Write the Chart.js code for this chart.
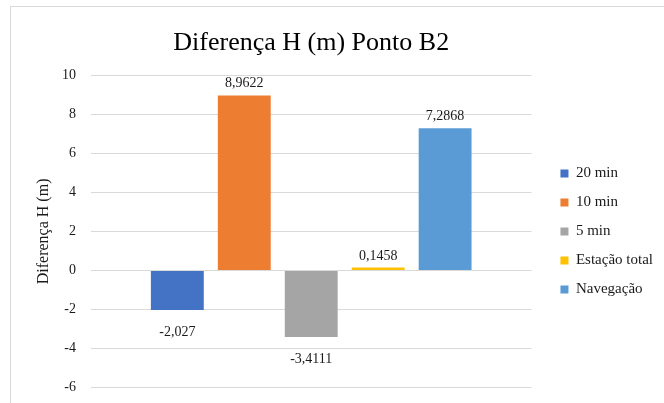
<!DOCTYPE html>
<html>
<head>
<meta charset="utf-8">
<script src="https://cdn.jsdelivr.net/npm/chart.js@4.4.1/dist/chart.umd.min.js"></script>
<style>
  body { margin: 0; background: #fff; }
  #wrap { position: relative; width: 664px; height: 403px; overflow: hidden; }
  #frame { position: absolute; left: 10px; top: 6px; width: 700px; height: 500px; border: 1px solid #d9d9d9; }
  #chart { position: absolute; left: 0; top: 0; }
</style>
</head>
<body>
<div id="wrap">
  <div id="frame"></div>
  <canvas id="chart" width="664" height="403"></canvas>
</div>
<script>
// values
const categories = [''];
const seriesNames = ['20 min', '10 min', '5 min', 'Estação total', 'Navegação'];
const seriesValues = [-2.027, 8.9622, -3.4111, 0.1458, 7.2868];
const seriesColors = ['#4472C4', '#ED7D31', '#A5A5A5', '#FFC000', '#5B9BD5'];
const yTicks = [-6, -4, -2, 0, 2, 4, 6, 8, 10];

const serif = 'Liberation Serif, Times New Roman, serif';
const textColor = '#1a1a1a';

// writes each value at the end of its bar, Excel style (comma decimals)
const valueLabels = {
  id: 'valueLabels',
  afterDatasetsDraw(chart) {
    const ctx = chart.ctx;
    ctx.save();
    ctx.font = `14px ${serif}`;
    ctx.fillStyle = textColor;
    ctx.textAlign = 'center';
    ctx.textBaseline = 'alphabetic';
    chart.data.datasets.forEach((ds, i) => {
      const bar = chart.getDatasetMeta(i).data[0];
      const v = ds.data[0];
      const txt = String(v).replace('.', ',');
      const y = v >= 0 ? bar.y - 8 : bar.y + 26;
      ctx.fillText(txt, bar.x, y);
    });
    ctx.restore();
  }
};

const datasets = seriesNames.map((name, i) => ({
  label: name,
  data: [seriesValues[i]],
  backgroundColor: seriesColors[i],
  borderWidth: 0,
  barPercentage: 0.79,
  categoryPercentage: 0.76
}));

new Chart(document.getElementById('chart').getContext('2d'), {
  type: 'bar',
  data: { labels: categories, datasets },
  plugins: [valueLabels],
  options: {
    responsive: false,
    animation: false,
    layout: { padding: { left: 30, right: 1, top: 0, bottom: 0 } },
    plugins: {
      title: {
        display: true,
        fullSize: false,
        text: 'Diferença H (m) Ponto B2',
        color: '#000',
        font: { family: serif, size: 26, weight: 'normal' },
        padding: { top: 28, bottom: 16 }
      },
      legend: {
        position: 'right',
        fullSize: false,
        maxWidth: 140,
        labels: {
          color: textColor,
          font: { family: serif, size: 15 },
          boxWidth: 8,
          boxHeight: 8,
          padding: 14
        }
      },
      tooltip: { enabled: false }
    },
    scales: {
      x: {
        display: false
      },
      y: {
        min: yTicks[0],
        max: yTicks[yTicks.length - 1],
        afterBuildTicks: (scale) => { scale.ticks = yTicks.map(v => ({ value: v })); },
        afterFit: (scale) => { scale.width = 61; },
        grid: { color: '#d9d9d9', drawTicks: true, tickLength: 8, tickColor: 'rgba(0,0,0,0)' },
        border: { display: false },
        ticks: { color: textColor, font: { family: serif, size: 14 }, padding: 7 },
        title: {
          display: true,
          text: 'Diferença H (m)',
          color: textColor,
          font: { family: serif, size: 16 },
          padding: { top: 4, bottom: 0 }
        }
      },
      // empty spacer between plot and legend
      gap: {
        position: 'right',
        grid: { display: false },
        border: { display: false },
        ticks: { display: false },
        afterFit: (scale) => { scale.width = 15; }
      }
    }
  }
});
</script>
</body>
</html>
